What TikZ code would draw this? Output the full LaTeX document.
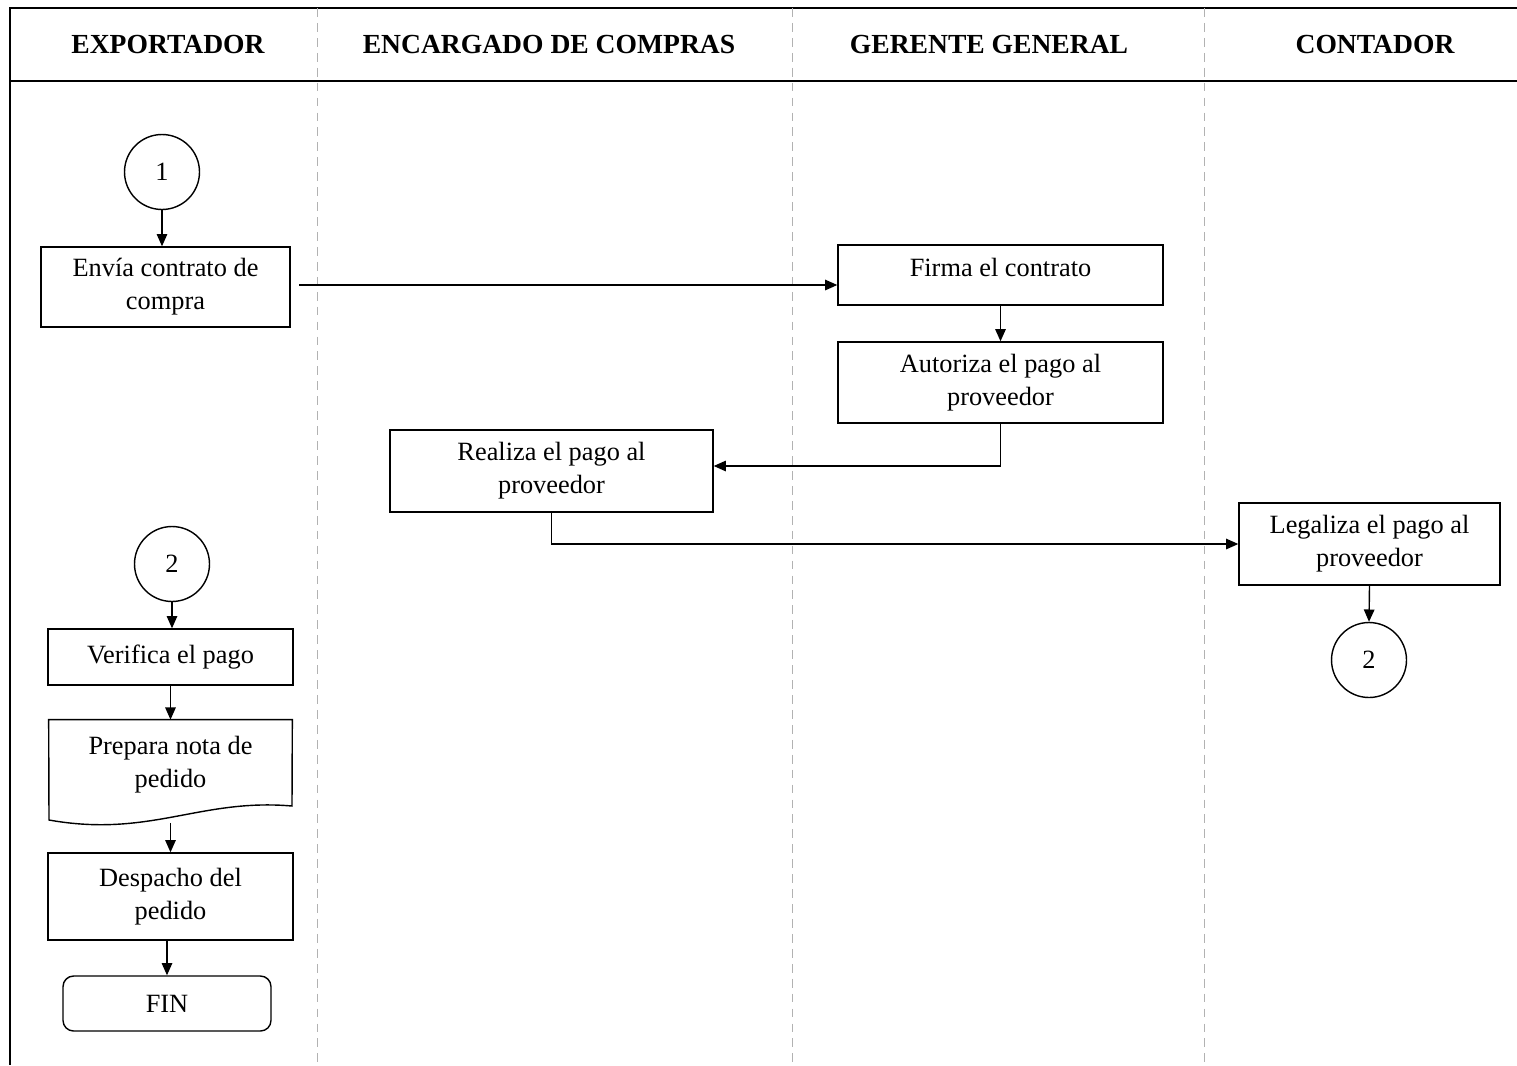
\documentclass[tikz,border=0pt]{standalone}
\usepackage{fontspec}
\setmainfont{Liberation Serif}
\usetikzlibrary{arrows.meta}

\tikzset{
  paso/.style={draw, thick, align=center, inner sep=2pt, font=\fontsize{15}{18.7}\selectfont},
  conector/.style={draw, thick, circle, minimum size=1.5cm, inner sep=0pt, font=\fontsize{15}{18}\selectfont},
  carril/.style={font=\bfseries\fontsize{15.7}{18}\selectfont},
  flecha/.style={thick, -{Triangle[length=7pt,width=6pt]}},
  division/.style={gray!60, dashed, dash pattern=on 5pt off 3.5pt, thin},
}

\begin{document}
\begin{tikzpicture}[x=0.02cm, y=-0.02cm]
\useasboundingbox (0,0) rectangle (1517,1065);

% marco y carriles
\draw[thick] (1517,8) -- (10,8) -- (10,1065);
\draw[thick] (10,81) -- (1517,81);
\foreach \xc in {317,792,1204}
  \draw[division] (\xc,8) -- (\xc,1065);

\node[carril] (hexp) at (168,45) {EXPORTADOR};
\node[carril] (henc) at (549,45) {ENCARGADO DE COMPRAS};
\node[carril] (hger) at (989,45) {GERENTE GENERAL};
\node[carril] (hcon) at (1375,45) {CONTADOR};

% nodos
\node[conector] (uno) at (162,172) {1};
\node[paso, minimum width=4.98cm, minimum height=1.6cm] (envia) at (165.5,287) {Envía contrato de\\compra};
\node[paso, minimum width=6.5cm, minimum height=1.2cm] (firma) at (1000.5,275) {Firma el contrato\\[-10pt]\mbox{}};
\node[paso, minimum width=6.5cm, minimum height=1.62cm] (autoriza) at (1000.5,382.5) {Autoriza el pago al\\proveedor};
\node[paso, minimum width=6.46cm, minimum height=1.64cm] (realiza) at (551.5,471) {Realiza el pago al\\proveedor};
\node[paso, minimum width=5.22cm, minimum height=1.64cm] (legaliza) at (1369.5,544) {Legaliza el pago al\\proveedor};
\node[conector] (dosc) at (1369,660) {2};

\node[conector] (dose) at (172,564) {2};
\node[paso, minimum width=4.9cm, minimum height=1.12cm] (verifica) at (170.5,657) {Verifica el pago};
\node[align=center, minimum width=4.86cm, minimum height=2cm, font=\fontsize{15}{18.7}\selectfont] (prepara) at (170.5,770) {Prepara nota de\\pedido\\[-9pt]\mbox{}};
\draw[thick] (prepara.north west) -- (prepara.north east) -- (292,806)
  .. controls (200,798) and (150,838) .. (49,820) -- cycle;
\node[paso, minimum width=4.9cm, minimum height=1.74cm] (despacho) at (170.5,896.5) {Despacho del\\pedido};
\node[paso, rounded corners=6pt, minimum width=4.16cm, minimum height=1.1cm] (fin) at (167,1003.5) {FIN};

% flujo
\draw[flecha] (uno.south) -- (uno.south |- envia.north);
\draw[flecha, shorten <=5pt] ([yshift=0.04cm]envia.east) -- ([yshift=0.04cm]envia.east -| firma.west);
\draw[flecha] (firma.south) -- (autoriza.north);
\draw[flecha] (autoriza.south) |- ([yshift=0.1cm]realiza.east);
\draw[flecha] (realiza.south) |- (legaliza.west);
\draw[flecha] (legaliza.south) -- (dosc.north);

\draw[flecha] (dose.south) -- (dose.south |- verifica.north);
\draw[flecha] (verifica.south) -- (prepara.north);
\draw[flecha] ([yshift=-0.05cm]prepara.south) -- (despacho.north);
\draw[flecha] (fin.north |- despacho.south) -- (fin.north);
\end{tikzpicture}
\end{document}
